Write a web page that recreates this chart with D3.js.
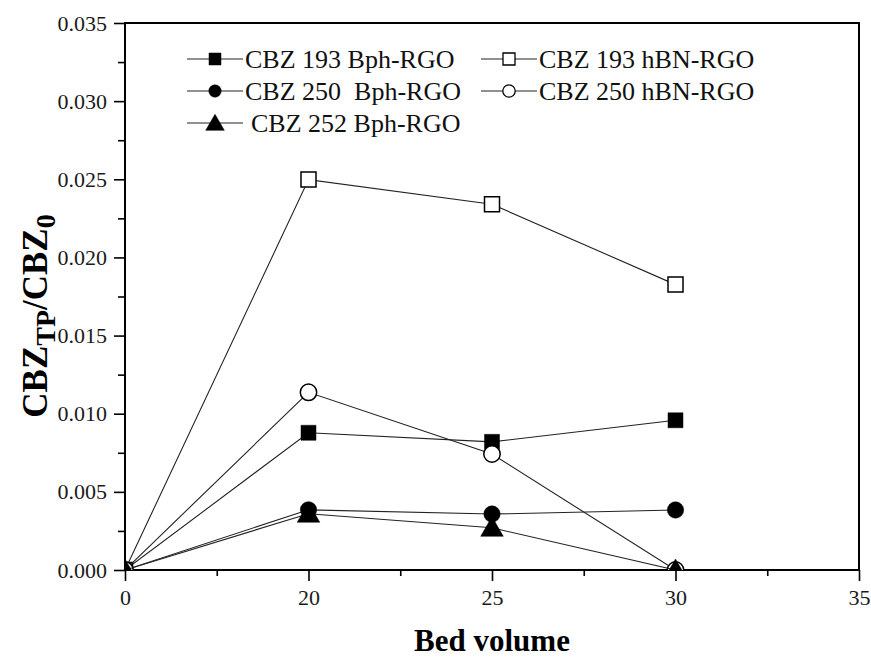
<!DOCTYPE html>
<html>
<head>
<meta charset="utf-8">
<script src="https://cdn.jsdelivr.net/npm/d3@7"></script>
<style>
  body { margin: 0; background: #fff; }
  svg { display: block; font-family: "Liberation Serif", "Times New Roman", serif; }
</style>
</head>
<body>
<div id="chart"></div>
<script>
// bed volume categories (evenly spaced on the axis)
const xTicks = ["0", "20", "25", "30", "35"];
const xPoints = ["0", "20", "25", "30"];
const yTicks = [0, 0.005, 0.010, 0.015, 0.020, 0.025, 0.030, 0.035];

const seriesNames = ["CBZ 193 Bph-RGO", "CBZ 193 hBN-RGO", "CBZ 250\u00a0 Bph-RGO", "CBZ 250 hBN-RGO", "CBZ 252 Bph-RGO"];
const cbz193Bph = [0, 0.00878, 0.00820, 0.00958];
const cbz193hBN = [0, 0.02498, 0.02340, 0.01826];
const cbz250Bph = [0, 0.00385, 0.00358, 0.00384];
const cbz250hBN = [0, 0.01137, 0.00742, 0];
const cbz252Bph = [0, 0.00360, 0.00270, 0];

const width = 871, height = 658;
const margin = { left: 125, right: 12, top: 23, bottom: 88 };

const svg = d3.select("#chart").append("svg")
    .attr("width", width)
    .attr("height", height);

const x = d3.scalePoint()
    .domain(xTicks)
    .range([margin.left, width - margin.right])
    .padding(0);

const y = d3.scaleLinear()
    .domain([0, 0.035])
    .range([height - margin.bottom, margin.top]);

const x0 = margin.left, x1 = width - margin.right;
const y0 = height - margin.bottom, y1 = margin.top;

svg.append("clipPath").attr("id", "plot")
    .append("rect")
    .attr("x", x0).attr("y", y1)
    .attr("width", x1 - x0).attr("height", y0 - y1);

// minor ticks
const yMinor = d3.range(0.0025, 0.035, 0.005);
const xMinor = d3.pairs(xTicks).map(([a, b]) => (x(a) + x(b)) / 2);

svg.append("g")
    .attr("transform", `translate(${x0},0)`)
    .call(d3.axisLeft(y).tickValues(yMinor).tickSize(7).tickFormat(""))
    .call(g => g.select(".domain").remove())
    .selectAll("line").attr("stroke-width", 1.6);

const xMinorScale = d3.scaleIdentity();
svg.append("g")
    .attr("transform", `translate(0,${y0})`)
    .call(d3.axisBottom(xMinorScale).tickValues(xMinor).tickSize(6).tickFormat(""))
    .call(g => g.select(".domain").remove())
    .selectAll("line").attr("stroke-width", 1.6);

// major axes
svg.append("g")
    .attr("transform", `translate(${x0},0)`)
    .call(d3.axisLeft(y).tickValues(yTicks).tickSize(11).tickPadding(7).tickFormat(d3.format(".3f")))
    .call(g => g.select(".domain").remove())
    .call(g => g.selectAll("line").attr("stroke-width", 1.6))
    .call(g => g.selectAll("text")
        .attr("font-family", "Liberation Serif")
        .attr("font-size", 22)
        .attr("fill", "#1a1a1a"));

svg.append("g")
    .attr("transform", `translate(0,${y0})`)
    .call(d3.axisBottom(x).tickSize(11).tickPadding(8))
    .call(g => g.select(".domain").remove())
    .call(g => g.selectAll("line").attr("stroke-width", 1.6))
    .call(g => g.selectAll("text")
        .attr("font-family", "Liberation Serif")
        .attr("font-size", 22)
        .attr("fill", "#1a1a1a"));

// frame
svg.append("rect")
    .attr("x", x0).attr("y", y1)
    .attr("width", x1 - x0).attr("height", y0 - y1)
    .attr("fill", "none")
    .attr("stroke", "#000")
    .attr("stroke-width", 2);

// series
const series = [
    { name: seriesNames[0], values: cbz193Bph, shape: "square", fill: "#000" },
    { name: seriesNames[1], values: cbz193hBN, shape: "square", fill: "#fff" },
    { name: seriesNames[2], values: cbz250Bph, shape: "circle", fill: "#000" },
    { name: seriesNames[3], values: cbz250hBN, shape: "circle", fill: "#fff" },
    { name: seriesNames[4], values: cbz252Bph, shape: "triangle", fill: "#000" }
];

const symbolType = { square: d3.symbolSquare, circle: d3.symbolCircle, triangle: d3.symbolTriangle };
const bigSize = { square: 15 * 15, circle: Math.PI * 8.2 * 8.2, triangle: 220 };
const smallSize = { square: 12 * 12, circle: Math.PI * 6.2 * 6.2, triangle: 150 };

const line = d3.line()
    .x((d, i) => x(xPoints[i]))
    .y(d => y(d));

const plot = svg.append("g").attr("clip-path", "url(#plot)");

series.forEach(s => {
    const g = plot.append("g");
    g.append("path")
        .attr("d", line(s.values))
        .attr("fill", "none")
        .attr("stroke", "#222")
        .attr("stroke-width", 1.1);
    g.selectAll("path.pt")
        .data(s.values)
        .enter().append("path")
        .attr("class", "pt")
        .attr("transform", (d, i) => `translate(${x(xPoints[i])},${y(d) + (s.shape === "triangle" ? 2 : 0)})`)
        .attr("d", d3.symbol().type(symbolType[s.shape]).size(bigSize[s.shape]))
        .attr("fill", s.fill)
        .attr("stroke", "#000")
        .attr("stroke-width", s.fill === "#fff" ? 1.5 : 0.5);
});

// legend
const legendPos = [
    { x: 187, y: 59 },
    { x: 481, y: 59 },
    { x: 187, y: 91 },
    { x: 481, y: 91 },
    { x: 187, y: 123 }
];

series.forEach((s, k) => {
    const p = legendPos[k];
    const g = svg.append("g").attr("transform", `translate(${p.x},${p.y})`);
    const gap = s.shape === "triangle" ? 6 : 0;
    g.append("line")
        .attr("x1", 0).attr("x2", 56)
        .attr("stroke", "#222").attr("stroke-width", 1.1);
    g.append("path")
        .attr("transform", `translate(28,${s.shape === "triangle" ? 2 : 0})`)
        .attr("d", d3.symbol().type(symbolType[s.shape]).size(smallSize[s.shape]))
        .attr("fill", s.fill)
        .attr("stroke", "#000")
        .attr("stroke-width", s.fill === "#fff" ? 1.3 : 0.5);
    g.append("text")
        .attr("x", 58 + gap)
        .attr("y", 9)
        .attr("font-size", 26)
        .attr("fill", "#111")
        .text(s.name);
});

// axis titles
svg.append("text")
    .attr("x", (x0 + x1) / 2)
    .attr("y", 651)
    .attr("text-anchor", "middle")
    .attr("font-size", 31)
    .attr("font-weight", "bold")
    .text("Bed volume");

const yTitle = svg.append("text")
    .attr("transform", "translate(47,316) rotate(-90)")
    .attr("text-anchor", "middle")
    .attr("font-size", 35)
    .attr("font-weight", "bold");
yTitle.append("tspan").text("CBZ");
yTitle.append("tspan").attr("dy", 8).attr("font-size", 28).text("TP");
yTitle.append("tspan").attr("dy", -8).text("/CBZ");
yTitle.append("tspan").attr("dy", 8).attr("font-size", 28).text("0");
</script>
</body>
</html>
